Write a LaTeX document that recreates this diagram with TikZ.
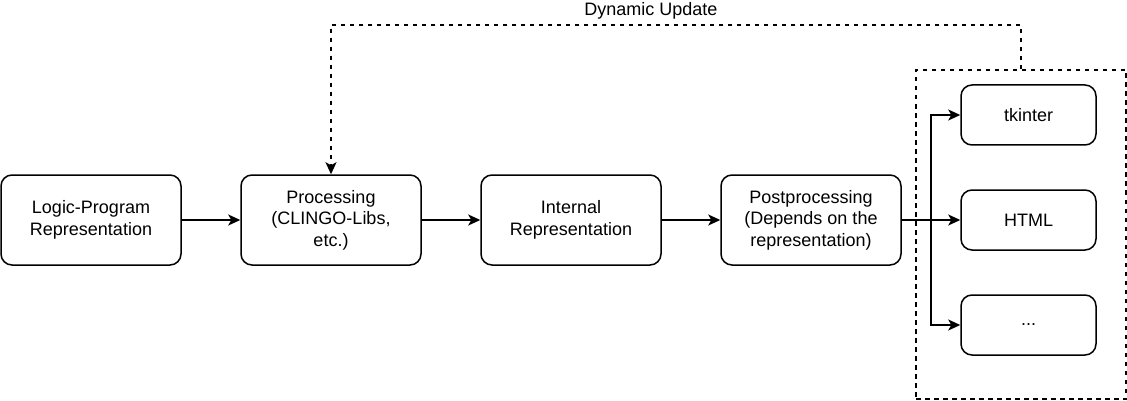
\documentclass[tikz,border=0pt]{standalone}
\usepackage{fontspec}
\setmainfont{Liberation Sans}
\usetikzlibrary{arrows.meta}
\begin{document}
\begin{tikzpicture}[x=1pt,y=-1pt,
  box/.style={draw, line width=1.5pt, rounded corners=11pt, minimum width=180pt, minimum height=90pt, inner sep=0pt, align=center, font=\fontsize{18}{21.6}\selectfont},
  sbox/.style={box, minimum width=135pt, minimum height=60pt},
  conn/.style={line width=1.5pt, -{Stealth[length=12pt,width=11pt,inset=3pt]}},
  dashline/.style={line width=1.5pt, dash pattern=on 4.5pt off 4.5pt}
]
\useasboundingbox (0,0) rectangle (1127,401);
\node[box] (lp) at (91,220) {Logic-Program\\Representation};
\node[box] (proc) at (331,220) {Processing\\(CLINGO-Libs,\\etc.)};
\node[box] (ir) at (571,220) {Internal\\Representation};
\node[box] (post) at (811,220) {Postprocessing\\(Depends on the\\representation)};
\node[sbox] (tk) at (1028.5,115) {tkinter};
\node[sbox] (html) at (1028.5,220) {HTML};
\node[sbox] (dots) at (1028.5,325) {...};
\node[draw, dashline, minimum width=210pt, minimum height=329pt, inner sep=0pt] (grp) at (1021,234.5) {};
\node[font=\fontsize{18}{21.6}\selectfont, inner sep=0pt] (lbl) at (651,11) {Dynamic Update};
\coordinate (br) at (931,220);
\coordinate (top) at (1021,25);
\draw[conn] (lp) -- (proc);
\draw[conn] (proc) -- (ir);
\draw[conn] (ir) -- (post);
\draw[conn] (post) -- (html);
\draw[conn] (br) |- (tk);
\draw[conn] (br) |- (dots);
\draw[dashline, -{Stealth[length=12pt,width=11pt,inset=3pt]}] (grp.north) -- (top) -| (proc.north);
\end{tikzpicture}
\end{document}
